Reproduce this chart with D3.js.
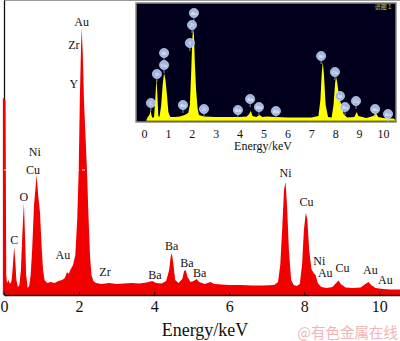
<!DOCTYPE html>
<html><head><meta charset="utf-8">
<script src="https://cdn.jsdelivr.net/npm/d3@7"></script>
<style>
html,body{margin:0;padding:0;background:#fff;}
svg{display:block;}
</style></head>
<body>
<svg id="c" width="400" height="341"></svg>
<script>
// ---- Main spectrum (energy keV, counts a.u.) ----
const mainEnergy = [-0.03,0.04,0.06,0.08,0.12,0.16,0.20,0.23,0.27,0.30,0.33,0.37,0.41,0.45,0.49,0.53,0.56,0.59,0.63,0.67,0.71,0.75,0.80,0.87,0.91,0.96,1.00,1.04,1.08,1.15,1.25,1.35,1.45,1.55,1.62,1.68,1.72,1.78,1.84,1.90,1.95,1.99,2.02,2.05,2.07,2.10,2.13,2.17,2.21,2.25,2.29,2.33,2.38,2.45,2.60,2.80,3.00,3.20,3.40,3.60,3.80,3.95,4.05,4.20,4.32,4.40,4.44,4.47,4.51,4.56,4.65,4.75,4.80,4.84,4.89,4.97,5.05,5.13,5.20,5.35,5.50,5.60,5.80,6.00,6.30,6.60,6.90,7.20,7.30,7.36,7.41,7.46,7.50,7.54,7.59,7.65,7.72,7.80,7.88,7.94,7.99,8.04,8.08,8.13,8.19,8.25,8.30,8.36,8.45,8.60,8.75,8.85,8.91,8.97,9.10,9.30,9.50,9.63,9.71,9.78,9.90,10.10,10.30,10.55];
const mainCounts = [1970,1950,200,120,150,110,140,260,480,350,150,80,100,250,620,920,600,200,70,90,200,450,900,1200,1000,820,500,250,150,120,130,120,140,150,170,230,210,260,300,400,750,1250,1950,2450,2670,2400,1950,1600,1250,800,400,200,140,120,110,120,110,115,120,115,125,140,120,115,140,250,380,420,320,150,120,160,240,250,180,130,140,160,130,110,130,110,105,100,100,95,95,100,130,300,650,1050,1130,900,450,150,100,90,110,300,650,820,760,450,260,220,200,120,80,70,80,120,145,110,75,70,75,110,130,100,70,60,55,55];

// ---- Inset spectrum (energy keV, counts a.u.) ----
const insetEnergy = [0.12,0.15,0.20,0.24,0.27,0.31,0.36,0.42,0.47,0.52,0.56,0.60,0.65,0.72,0.78,0.84,0.90,0.96,1.02,1.10,1.30,1.50,1.70,1.85,1.92,1.97,2.02,2.05,2.09,2.13,2.18,2.24,2.30,2.50,3.00,3.50,4.00,4.30,4.40,4.47,4.54,4.70,4.84,4.95,5.15,5.50,6.00,6.50,7.00,7.30,7.38,7.44,7.48,7.53,7.60,7.70,7.85,7.93,8.00,8.04,8.10,8.18,8.27,8.35,8.50,8.80,8.90,8.97,9.30,9.60,9.70,9.80,10.00,10.30,10.45];
const insetCounts = [0,30,40,60,100,50,20,30,200,420,250,40,30,150,350,470,400,250,80,30,30,35,50,70,150,450,800,920,850,550,300,120,50,35,30,30,30,35,60,90,40,30,50,30,35,30,25,25,25,40,200,480,580,450,150,30,25,150,380,430,350,200,150,60,25,30,80,40,20,40,70,30,20,15,15];

// ---- Peak labels ----
const mainLabelText = ["Au","Zr","Y","Ni","Cu","O","C","Au","Zr","Ba","Ba","Ba","Ba","Ni","Cu","Ni","Au","Cu","Au","Au"];
const mainLabelE    = [2.07,1.86,1.86,0.82,0.77,0.53,0.27,1.57,2.69,4.02,4.47,4.87,5.21,7.50,8.06,8.40,8.56,9.02,9.76,10.16];
const mainLabelC    = [2730,2500,2110,1430,1250,980,550,400,230,200,490,320,220,1220,930,340,220,270,250,150];

const insetLabelText = ["C","O","Ni","Cu","Au","Au","Zr","Y","Zr","Ba","Ba","Ba","Ba","Ni","Cu","Ni","Au","Cu","Au","Au"];
const insetLabelE    = [0.29,0.54,0.84,0.84,1.63,2.09,2.01,1.92,2.51,3.93,4.44,4.81,5.52,7.41,7.99,8.20,8.41,8.87,9.67,10.21];
const insetLabelC    = [170,460,670,550,150,1070,950,770,110,100,210,130,90,640,480,240,130,190,110,60];

const tickValuesMain = [0,2,4,6,8,10];
const tickValuesInset = [0,1,2,3,4,5,6,7,8,9,10];

const serif = "'Liberation Serif','Times New Roman',serif";
const svg = d3.select("#c");

// ---- Main scales ----
const x = d3.scaleLinear().domain([0,10.55]).range([4,400]);
const y = d3.scaleLinear().domain([0,2950]).range([295,0]);

const mainData = mainEnergy.map((e,i)=>({e, c: mainCounts[i]}));
// top frame line
svg.append("line").attr("x1",4).attr("x2",400).attr("y1",0.5).attr("y2",0.5)
  .attr("stroke","#9a9a9a").attr("stroke-width",1);

const yAxis = svg.append("g").attr("transform","translate(4,0)")
  .call(d3.axisLeft(y).tickValues([]).tickSizeOuter(0));
yAxis.select(".domain").attr("stroke","#111").attr("stroke-width",1.3);

svg.append("path").datum(mainData)
  .attr("fill","#f00000")
  .attr("d", d3.area().x(d=>x(d.e)).y0(y(0)).y1(d=>y(d.c)));

// white dashed reference line
svg.append("line").attr("x1",4).attr("x2",400).attr("y1",y(1250)).attr("y2",y(1250))
  .attr("stroke","#fff").attr("stroke-width",1).attr("stroke-dasharray","3,3");

// axes
const xAxis = svg.append("g").attr("transform","translate(0,295)")
  .call(d3.axisBottom(x).tickValues(tickValuesMain).tickSizeInner(-3).tickSizeOuter(0).tickPadding(6).tickFormat(d3.format("d")));
xAxis.select(".domain").attr("stroke","#111").attr("stroke-width",1.3);
xAxis.selectAll(".tick line").attr("stroke","#111");
xAxis.selectAll("text").attr("font-family",serif).attr("font-size",16).attr("fill","#111");

svg.append("text").attr("x",205).attr("y",336).attr("text-anchor","middle")
  .attr("font-family",serif).attr("font-size",18).attr("fill","#111").text("Energy/keV");

// main labels
svg.append("g").selectAll("text").data(mainLabelText).join("text")
  .attr("x",(d,i)=>x(mainLabelE[i])).attr("y",(d,i)=>y(mainLabelC[i]))
  .attr("text-anchor","middle").attr("dominant-baseline","central")
  .attr("font-family",serif).attr("font-size",12).attr("fill","#111").text(d=>d);

// ---- Inset ----
const ix = d3.scaleLinear().domain([0,10]).range([144,383]);
const iy = d3.scaleLinear().domain([0,1170]).range([120,3]);
const inset = svg.append("g");
inset.append("rect").attr("x",136).attr("y",3).attr("width",260).attr("height",119)
  .attr("fill","#00001c").attr("stroke","#8a8a8a").attr("stroke-width",1.5);
const insetData = insetEnergy.map((e,i)=>({e, c: insetCounts[i]}));
inset.append("path").datum(insetData)
  .attr("fill","#ffff00")
  .attr("d", d3.area().x(d=>ix(d.e)).y0(iy(0)).y1(d=>iy(d.c)));
inset.append("line").attr("x1",ix(0.1)).attr("x2",395).attr("y1",iy(0)).attr("y2",iy(0))
  .attr("stroke","#ffff00").attr("stroke-width",1.5);

const ixAxis = inset.append("g").attr("transform","translate(0,"+iy(0)+")")
  .call(d3.axisBottom(ix).tickValues(tickValuesInset).tickSize(0).tickPadding(9).tickFormat(d3.format("d")));
ixAxis.select(".domain").remove();
ixAxis.selectAll("text").attr("font-family",serif).attr("font-size",12).attr("fill","#111");
inset.append("text").attr("x",263).attr("y",150).attr("text-anchor","middle")
  .attr("font-family",serif).attr("font-size",12).attr("fill","#111").text("Energy/keV");

const il = inset.append("g").selectAll("g").data(insetLabelText).join("g")
  .attr("transform",(d,i)=>"translate("+ix(insetLabelE[i])+","+iy(insetLabelC[i])+")");
il.append("line").attr("x1",0).attr("x2",0).attr("y1",4).attr("y2",8).attr("stroke","#9fb4dc").attr("stroke-width",0.8);
il.append("circle").attr("r",4.6).attr("fill","#9fb6e2").attr("stroke","#dfe8f8").attr("stroke-width",0.6);
il.append("text").attr("text-anchor","middle").attr("dominant-baseline","central")
  .attr("font-family","'DejaVu Sans',sans-serif").attr("font-size",4.5).attr("fill","#fff").text(d=>d);

inset.append("text").attr("x",383).attr("y",9).attr("text-anchor","middle")
  .attr("font-family","'Noto Sans CJK SC',sans-serif").attr("font-size",6).attr("fill","#b5d24a").text("谱图 1");

// watermark
svg.append("text").attr("x",398).attr("y",338).attr("text-anchor","end")
  .attr("font-family","'Noto Sans CJK SC',sans-serif").attr("font-size",14.5).attr("fill","#f2b4b4").text("@有色金属在线");
</script>
</body></html>
